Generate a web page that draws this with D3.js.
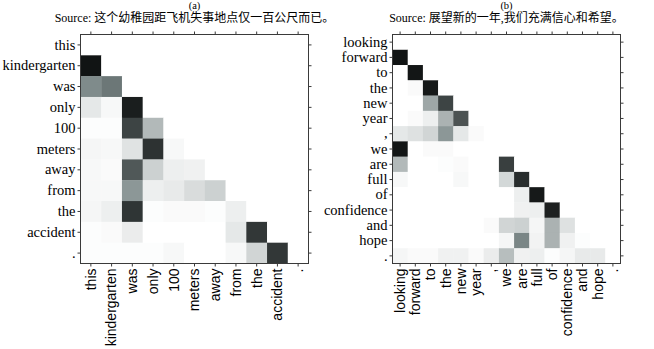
<!DOCTYPE html>
<html>
<head>
<meta charset="utf-8">
<script src="https://cdn.jsdelivr.net/npm/d3@7"></script>
<style>
  body { margin: 0; background: #fff; }
  svg { display: block; }
</style>
</head>
<body>
<svg id="chart"></svg>
<script>
// words of each sentence
const wordsA = ["this", "kindergarten", "was", "only", "100", "meters", "away", "from", "the", "accident", "."]
const wordsB = ["looking", "forward", "to", "the", "new", "year", ",", "we", "are", "full", "of", "confidence", "and", "hope", "."]

const sourceA = "Source: 这个幼稚园距飞机失事地点仅一百公尺而已。"
const sourceB = "Source: 展望新的一年,我们充满信心和希望。"

// attention weights, rows top to bottom, columns left to right
const attnA = [
  [0, 0, 0, 0, 0, 0, 0, 0, 0, 0, 0],
  [0.97, 0, 0, 0, 0, 0, 0, 0, 0, 0, 0],
  [0.5, 0.58, 0, 0, 0, 0, 0, 0, 0, 0, 0],
  [0.1, 0.03, 0.93, 0, 0, 0, 0, 0, 0, 0, 0],
  [0.01, 0.01, 0.78, 0.3, 0, 0, 0, 0, 0, 0, 0],
  [0.04, 0.03, 0.12, 0.85, 0.03, 0, 0, 0, 0, 0, 0],
  [0.03, 0.02, 0.7, 0.2, 0.07, 0.06, 0, 0, 0, 0, 0],
  [0.03, 0.03, 0.45, 0.07, 0.09, 0.15, 0.2, 0, 0, 0, 0],
  [0.04, 0.07, 0.84, 0.01, 0.02, 0.02, 0.01, 0.07, 0, 0, 0],
  [0.01, 0.02, 0.08, 0, 0, 0, 0, 0.1, 0.83, 0, 0],
  [0.01, 0.01, 0.01, 0.01, 0.03, 0, 0, 0.03, 0.18, 0.83, 0]
]

const attnB = [
  [0, 0, 0, 0, 0, 0, 0, 0, 0, 0, 0, 0, 0, 0, 0],
  [0.97, 0, 0, 0, 0, 0, 0, 0, 0, 0, 0, 0, 0, 0, 0],
  [0, 0.96, 0, 0, 0, 0, 0, 0, 0, 0, 0, 0, 0, 0, 0],
  [0, 0.02, 0.95, 0, 0, 0, 0, 0, 0, 0, 0, 0, 0, 0, 0],
  [0, 0, 0.38, 0.78, 0, 0, 0, 0, 0, 0, 0, 0, 0, 0, 0],
  [0, 0.02, 0.07, 0.33, 0.72, 0, 0, 0, 0, 0, 0, 0, 0, 0, 0],
  [0.1, 0.13, 0.18, 0.45, 0.1, 0.02, 0, 0, 0, 0, 0, 0, 0, 0, 0],
  [0.96, 0, 0.02, 0.02, 0, 0, 0, 0, 0, 0, 0, 0, 0, 0, 0],
  [0.3, 0, 0, 0.01, 0.02, 0, 0, 0.8, 0, 0, 0, 0, 0, 0, 0],
  [0.03, 0, 0, 0, 0.03, 0, 0, 0.17, 0.87, 0, 0, 0, 0, 0, 0],
  [0, 0, 0, 0, 0, 0, 0, 0, 0.07, 0.95, 0, 0, 0, 0, 0],
  [0, 0, 0, 0, 0, 0, 0, 0, 0.06, 0.07, 0.92, 0, 0, 0, 0],
  [0, 0, 0, 0, 0, 0, 0.02, 0.18, 0.2, 0.04, 0.33, 0.13, 0, 0, 0],
  [0, 0, 0, 0, 0, 0, 0, 0.04, 0.52, 0.05, 0.33, 0.06, 0.01, 0, 0],
  [0.04, 0.02, 0.02, 0.06, 0.06, 0.02, 0.08, 0.28, 0.06, 0.07, 0.01, 0.04, 0.09, 0.09, 0]
]

const W = 654, H = 349
const svg = d3.select("#chart").attr("width", W).attr("height", H)

// white -> grey with a slight teal tint -> near black
const color = d3.scaleLinear()
  .domain([0, 0.5, 1])
  .range(["#ffffff", "#7f8b8b", "#0a0c0c"])

const frameColor = "#3a3a3a"

const drawPanel = (opt) => {
  const {x0, y0, w, h, words, attn, tag, source} = opt
  const g = svg.append("g").attr("transform", `translate(${x0},${y0})`)

  const x = d3.scaleBand().domain(d3.range(words.length)).range([0, w]).padding(0)
  const y = d3.scaleBand().domain(d3.range(words.length)).range([0, h]).padding(0)

  // cells
  const cells = []
  attn.forEach((row, i) => row.forEach((v, j) => cells.push({i, j, v})))
  g.append("g").selectAll("rect")
    .data(cells)
    .join("rect")
    .attr("x", d => x(d.j))
    .attr("y", d => y(d.i))
    .attr("width", x.bandwidth() + 0.3)
    .attr("height", y.bandwidth() + 0.3)
    .attr("fill", d => color(d.v))

  // axes
  const left = g.append("g")
    .call(d3.axisLeft(y).tickSize(3).tickSizeOuter(0).tickPadding(2).tickFormat(i => words[i]))
  left.selectAll("text")
    .style("font-family", "'Liberation Serif', 'Times New Roman', serif")
    .style("font-size", "14.5px")
    .attr("fill", "#000")

  const bottom = g.append("g").attr("transform", `translate(0,${h})`)
    .call(d3.axisBottom(x).tickSize(3).tickSizeOuter(0).tickPadding(3).tickFormat(i => words[i]))
  bottom.selectAll("text")
    .style("font-family", "'Liberation Sans', Arial, sans-serif")
    .style("font-size", "14px")
    .attr("fill", "#000")
    .attr("transform", "rotate(-90)")
    .attr("text-anchor", "end")
    .attr("x", -5)
    .attr("y", 0)
    .attr("dy", "0.35em")

  g.append("g").call(d3.axisTop(x).tickSize(3).tickSizeOuter(0).tickFormat(""))
  g.append("g").attr("transform", `translate(${w},0)`)
    .call(d3.axisRight(y).tickSize(3).tickSizeOuter(0).tickFormat(""))

  g.selectAll(".domain").remove()
  g.selectAll(".tick line").attr("stroke", frameColor)

  // frame
  g.append("rect")
    .attr("width", w).attr("height", h)
    .attr("fill", "none")
    .attr("stroke", frameColor)
    .attr("stroke-width", 1)

  // titles
  g.append("text")
    .attr("x", w / 2).attr("y", 8.5 - y0)
    .attr("text-anchor", "middle")
    .style("font-family", "'Liberation Serif', serif")
    .style("font-size", "10.5px")
    .text(tag)
  g.append("text")
    .attr("x", w / 2).attr("y", 22 - y0)
    .attr("text-anchor", "middle")
    .style("font-family", "'Liberation Serif', 'Noto Sans CJK SC', serif")
    .style("font-size", "12px")
    .text(source)
}

drawPanel({x0: 80.5, y0: 34.5, w: 228, h: 229, words: wordsA, attn: attnA, tag: "(a)", source: sourceA})
drawPanel({x0: 392.5, y0: 34.5, w: 228, h: 229, words: wordsB, attn: attnB, tag: "(b)", source: sourceB})
</script>
</body>
</html>
